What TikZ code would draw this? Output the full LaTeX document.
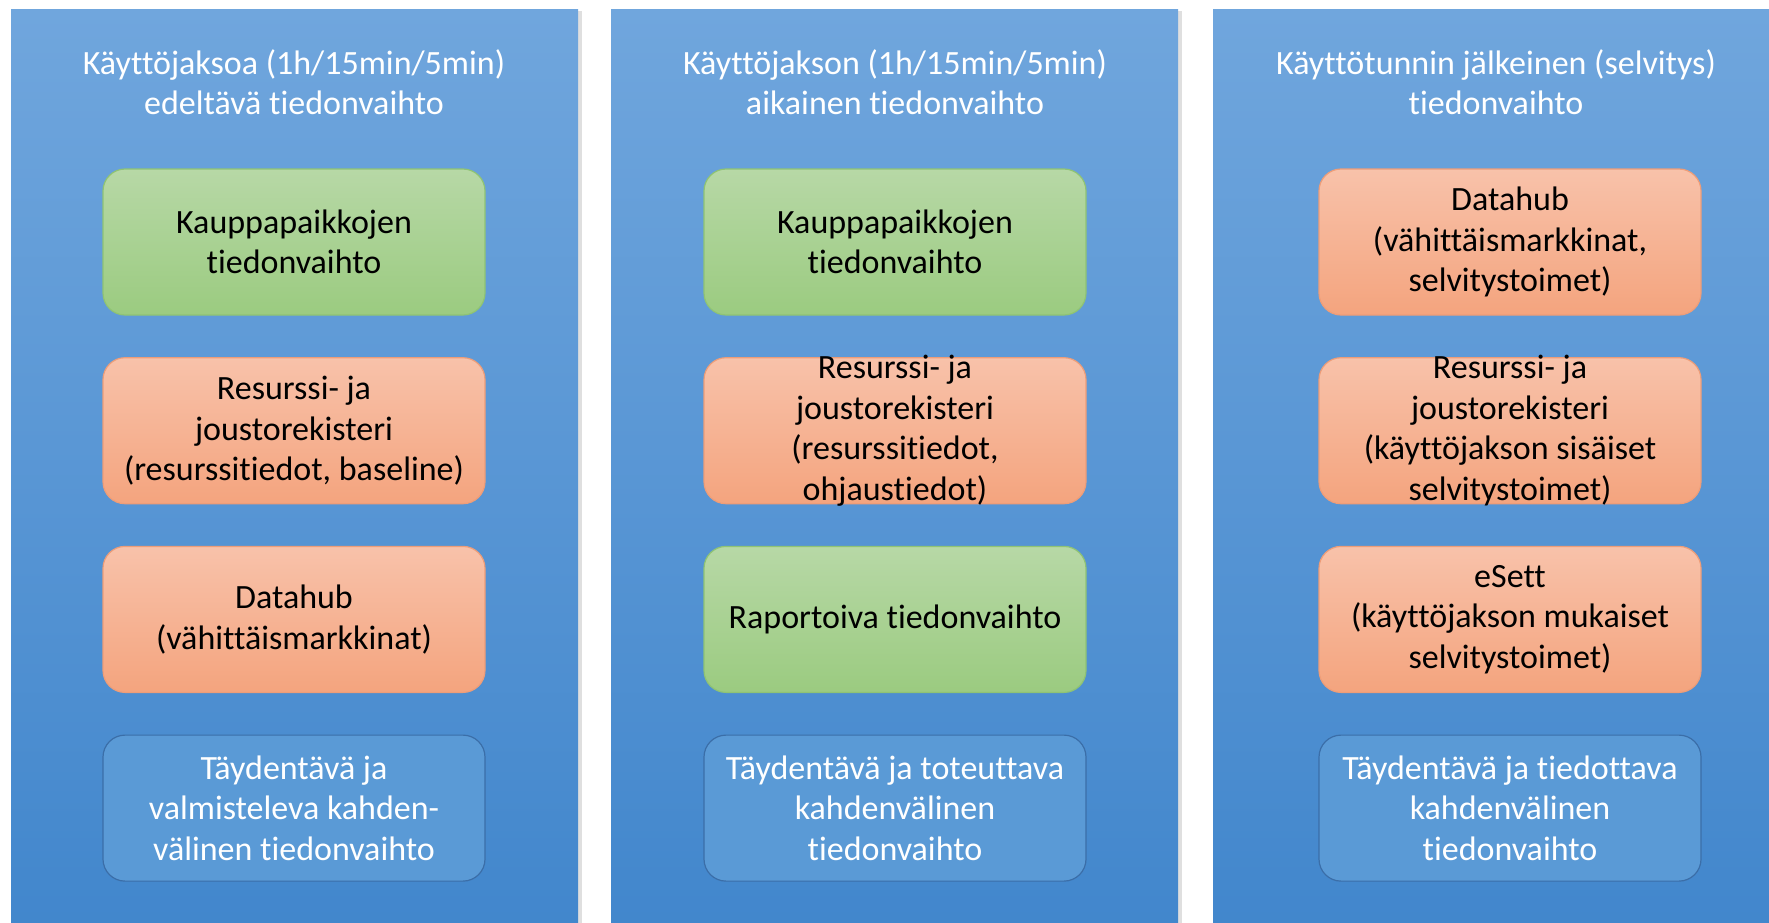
\documentclass[tikz,border=0pt]{standalone}
\usepackage{fontspec}
\setmainfont[RawFeature=-liga]{Carlito}
\usepackage{tikz}
\usetikzlibrary{positioning}
\usetikzlibrary{shadows}
\definecolor{colTop}{HTML}{70A6DD}
\definecolor{colBottom}{HTML}{4186CC}
\definecolor{greenTop}{HTML}{B7D8A6}
\definecolor{greenBottom}{HTML}{9BCB80}
\definecolor{greenLine}{HTML}{8FC374}
\definecolor{orangeTop}{HTML}{F8C2AA}
\definecolor{orangeBottom}{HTML}{F4A47E}
\definecolor{orangeLine}{HTML}{EE9D78}
\definecolor{blueFill}{HTML}{5A9AD6}
\definecolor{blueLine}{HTML}{3B6EA8}
\tikzset{
	column/.style={
		anchor=north west, inner sep=0pt,
		minimum width=567pt, minimum height=930pt,
		top color=colTop, bottom color=colBottom,
		drop shadow={shadow xshift=4pt, shadow yshift=-2pt, opacity=0.25}
	},
	title/.style={
		align=center, text=white, font=\boxfont
	},
	every box/.style={
		rounded corners=22pt, minimum width=382pt, minimum height=146pt,
		align=center, font=\boxfont, line width=1.2pt
	},
	greenbox/.style={
		every box, top color=greenTop, bottom color=greenBottom, draw=greenLine
	},
	orangebox/.style={
		every box, top color=orangeTop, bottom color=orangeBottom, draw=orangeLine
	},
	bluebox/.style={
		every box, fill=blueFill, draw=blueLine, text=white
	},
	boxtext/.style={
		align=center, font=\boxfont
	}
}
\newcommand\boxfont{\fontsize{34}{40.6}\selectfont}

\begin{document}
\begin{tikzpicture}[x=1pt, y=-1pt, node distance=41.5pt]
    \useasboundingbox[fill=white] (0,0) rectangle (1769,923);
    % columns
    \node[column] (col1) at (11,9) {};
    \node[column] (col2) at (611,9) {};
    \node[column] (col3) at (1213,9) {};

    \node[title] (title1) at (294,82) {Käyttöjaksoa (1h/15min/5min)\\edeltävä tiedonvaihto};
    \node[title] (title2) at (895,82) {Käyttöjakson (1h/15min/5min)\\aikainen tiedonvaihto};
    \node[title] (title3) at (1496,82) {Käyttötunnin jälkeinen (selvitys)\\tiedonvaihto};

    % column 1
    \node[greenbox] (market1) at (294,242) {Kauppapaikkojen\\tiedonvaihto};
    \node[orangebox, below=of market1] (register1) {Resurssi- ja\\joustorekisteri\\(resurssitiedot, baseline)};
    \node[orangebox, below=of register1] (datahub1) {Datahub\\(vähittäismarkkinat)};
    \node[bluebox, below=of datahub1] (bilateral1) {Täydentävä ja\\valmisteleva kahden-\\välinen tiedonvaihto};

    % column 2
    \node[greenbox] (market2) at (895,242) {Kauppapaikkojen\\tiedonvaihto};
    \node[orangebox, below=of market2] (register2) {};
    \node[boxtext] at (register2) {Resurssi- ja\\joustorekisteri\\(resurssitiedot,\\ohjaustiedot)};
    \node[greenbox, below=of register2] (report2) {Raportoiva tiedonvaihto};
    \node[bluebox, below=of report2] (bilateral2) {Täydentävä ja toteuttava\\kahdenvälinen\\tiedonvaihto};

    % column 3
    \node[orangebox] (datahub3) at (1510,242) {Datahub\\(vähittäismarkkinat,\\selvitystoimet)};
    \node[orangebox, below=of datahub3] (register3) {};
    \node[boxtext] at (register3) {Resurssi- ja\\joustorekisteri\\(käyttöjakson sisäiset\\selvitystoimet)};
    \node[orangebox, below=of register3] (esett3) {eSett\\(käyttöjakson mukaiset\\selvitystoimet)};
    \node[bluebox, below=of esett3] (bilateral3) {Täydentävä ja tiedottava\\kahdenvälinen\\tiedonvaihto};
\end{tikzpicture}
\end{document}
